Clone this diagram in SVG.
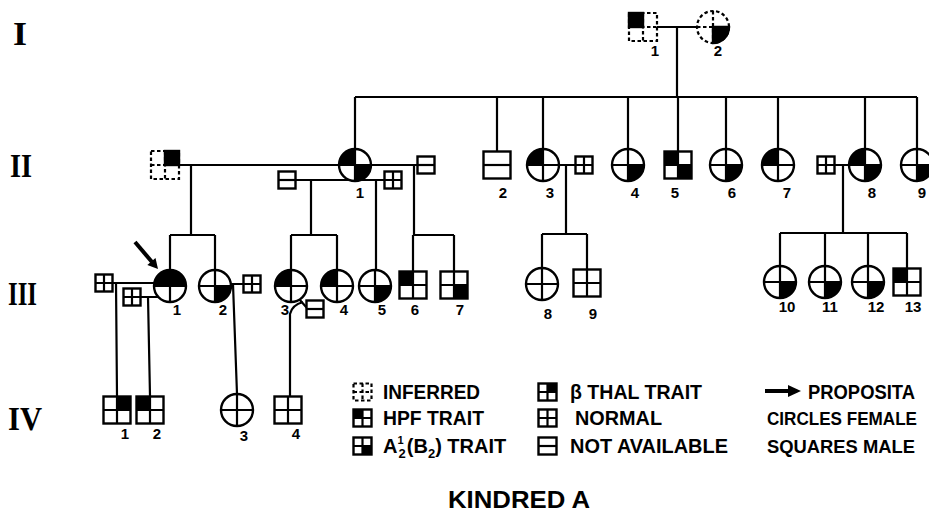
<svg xmlns="http://www.w3.org/2000/svg" xmlns:xlink="http://www.w3.org/1999/xlink" width="929" height="514" viewBox="0 0 929 514">
<style>
.s{fill:#fff;stroke:#000;stroke-width:2.4}
.ln{fill:none;stroke:#000;stroke-width:2.2}
.d{fill:none;stroke:#000;stroke-width:2.2;stroke-dasharray:3.5 2.5}
.k{fill:#000}
.ks{fill:#000;stroke:#000;stroke-width:2.4}
.cn path,.cn line{fill:none;stroke:#000;stroke-width:2.2}
.lb{font-family:"Liberation Sans",Arial,sans-serif;font-weight:bold;font-size:15px;text-anchor:middle}
.lg{font-family:"Liberation Sans",Arial,sans-serif;font-weight:bold;font-size:20px}
.rn{font-family:"Liberation Serif","Times New Roman",serif;font-weight:bold;font-size:34px}
</style>
<defs>
<g id="C"><circle r="16" class="s"/><path d="M-16,0H16M0,-16V16" class="ln"/></g>
<path id="cTL" class="k" d="M0,0H-16A16,16 0 0 1 0,-16Z"/>
<path id="cTR" class="k" d="M0,0V-16A16,16 0 0 1 16,0Z"/>
<path id="cBR" class="k" d="M0,0H16A16,16 0 0 1 0,16Z"/>
<g id="S"><rect x="-13.5" y="-13.5" width="27" height="27" class="s"/><path d="M-13.5,0H13.5M0,-13.5V13.5" class="ln"/></g>
<g id="SNA"><rect x="-13.5" y="-13.5" width="27" height="27" class="s"/><path d="M-13.5,0H13.5" class="ln"/></g>
<rect id="sTL" class="k" x="-13.5" y="-13.5" width="13.5" height="13.5"/>
<rect id="sTR" class="k" x="0" y="-13.5" width="13.5" height="13.5"/>
<rect id="sBR" class="k" x="0" y="0" width="13.5" height="13.5"/>
<g id="s"><rect x="-8.5" y="-8.5" width="17" height="17" class="s"/><path d="M-8.5,0H8.5M0,-8.5V8.5" class="ln"/></g>
<g id="sna"><rect x="-8.5" y="-8.5" width="17" height="17" class="s"/><path d="M-8.5,0H8.5" class="ln"/></g>
<g id="L"><rect x="-9" y="-8.5" width="18" height="17" class="s"/><path d="M-9,0H9M0,-8.5V8.5" class="ln"/></g>
</defs>

<!-- generation numerals -->
<g id="gen-labels">
<text class="rn" x="13" y="45" textLength="14" lengthAdjust="spacingAndGlyphs">I</text>
<text class="rn" x="10" y="177" textLength="22" lengthAdjust="spacingAndGlyphs">II</text>
<text class="rn" x="8" y="305" textLength="29" lengthAdjust="spacingAndGlyphs">III</text>
<text class="rn" x="8" y="430" textLength="34" lengthAdjust="spacingAndGlyphs">IV</text>
</g>

<!-- connectors -->
<g id="connectors" class="cn">
<path d="M657,27H697M677,27V97"/>
<path d="M355,97H917M355,97V149M497,97V152M543,97V149M628,97V149M678,97V152M726,97V149M778,97V149M865,97V149M917,97V149"/>
<path d="M179,165H339M191,165V235M170,235H215M170,235V270M215,235V270"/>
<path d="M371,165H417.5M414,165V235M413,235H454M413,235V272M454,235V272"/>
<path d="M295.5,180H384.5M311,180V235M291,235H337M291,235V270M337,235V270M376,180V270"/>
<path d="M559,165H575.5M566,165V234M542,234H587M542,234V268M587,234V270"/>
<path d="M834.5,165H849M843,165V233M780,233H907M780,233V266M825,233V266M868,233V266M907,233V268"/>
<path d="M112.5,283H154M116,283L117,396"/>
<path d="M140.5,297H158.5M148,297L150,396"/>
<path d="M231,284H243.5M233,284L237,394"/>
<path d="M299,299L307,308M290,396V314Q292,305 303,302"/>
</g>

<!-- generation I -->
<g id="I-1">
<rect x="629" y="13" width="28" height="28" class="d"/>
<path d="M629,27H657M643,13V41" class="d"/>
<rect x="629" y="13" width="14" height="14" class="ks"/>
<text class="lb" x="655" y="56">1</text>
</g>
<g id="I-2">
<circle cx="713" cy="27" r="16" class="d"/>
<path d="M697,27H729M713,11V43" class="d"/>
<path d="M713,27H729A16,16 0 0 1 713,43Z" class="ks"/>
<text class="lb" x="718" y="56">2</text>
</g>

<!-- generation II -->
<g id="II-1-spouse-inferred">
<rect x="151" y="151" width="28" height="28" class="d"/>
<path d="M151,165H179M165,151V179" class="d"/>
<rect x="165" y="151" width="14" height="14" class="ks"/>
</g>
<g id="II-1" transform="translate(355,165)"><use href="#C"/><use href="#cTL"/><use href="#cBR"/><text class="lb" x="5" y="33">1</text></g>
<g id="II-1-spouse-a" transform="translate(287,180)"><use href="#sna"/></g>
<g id="II-1-spouse-b" transform="translate(393,180)"><use href="#s"/></g>
<g id="II-1-spouse-c" transform="translate(426,165)"><use href="#sna"/></g>
<g id="II-2" transform="translate(497,165)"><use href="#SNA"/><text class="lb" x="6" y="33">2</text></g>
<g id="II-3" transform="translate(543,165)"><use href="#C"/><use href="#cTL"/><text class="lb" x="7" y="33">3</text></g>
<g id="II-3-spouse" transform="translate(584,165)"><use href="#s"/></g>
<g id="II-4" transform="translate(628,165)"><use href="#C"/><use href="#cBR"/><text class="lb" x="7" y="33">4</text></g>
<g id="II-5" transform="translate(678,165)"><use href="#S"/><use href="#sTL"/><use href="#sBR"/><text class="lb" x="-3" y="33">5</text></g>
<g id="II-6" transform="translate(726,165)"><use href="#C"/><use href="#cBR"/><text class="lb" x="6" y="33">6</text></g>
<g id="II-7" transform="translate(778,165)"><use href="#C"/><use href="#cTL"/><text class="lb" x="9" y="33">7</text></g>
<g id="II-8-spouse" transform="translate(826,165)"><use href="#s"/></g>
<g id="II-8" transform="translate(865,165)"><use href="#C"/><use href="#cTL"/><use href="#cBR"/><text class="lb" x="7" y="33">8</text></g>
<g id="II-9" transform="translate(917,165)"><use href="#C"/><use href="#cBR"/><text class="lb" x="5" y="33">9</text></g>

<!-- generation III -->
<g id="III-1-spouse-a" transform="translate(104,283)"><use href="#s"/></g>
<g id="III-1-spouse-b" transform="translate(132,297)"><use href="#s"/></g>
<g id="III-1" transform="translate(170,286)"><use href="#C"/><use href="#cTL"/><use href="#cTR"/><text class="lb" x="7" y="29">1</text></g>
<g id="III-2" transform="translate(215,286)"><use href="#C"/><use href="#cBR"/><text class="lb" x="8" y="29">2</text></g>
<g id="III-2-spouse" transform="translate(252,284)"><use href="#s"/></g>
<g id="III-3" transform="translate(291,286)"><use href="#C"/><use href="#cTL"/><text class="lb" x="-6" y="29">3</text></g>
<g id="III-3-spouse" transform="translate(315,309)"><use href="#sna"/></g>
<g id="III-4" transform="translate(337,286)"><use href="#C"/><use href="#cTL"/><text class="lb" x="7" y="29">4</text></g>
<g id="III-5" transform="translate(375,286)"><use href="#C"/><use href="#cBR"/><text class="lb" x="7" y="29">5</text></g>
<g id="III-6" transform="translate(413,285)"><use href="#S"/><use href="#sTL"/><text class="lb" x="2" y="30">6</text></g>
<g id="III-7" transform="translate(454,285)"><use href="#S"/><use href="#sBR"/><text class="lb" x="6" y="30">7</text></g>
<g id="III-8" transform="translate(542,284)"><use href="#C"/><text class="lb" x="6" y="35">8</text></g>
<g id="III-9" transform="translate(587,283)"><use href="#S"/><text class="lb" x="6" y="36">9</text></g>
<g id="III-10" transform="translate(780,282)"><use href="#C"/><use href="#cBR"/><text class="lb" x="7" y="30">10</text></g>
<g id="III-11" transform="translate(825,282)"><use href="#C"/><use href="#cBR"/><text class="lb" x="5" y="30">11</text></g>
<g id="III-12" transform="translate(868,282)"><use href="#C"/><use href="#cBR"/><text class="lb" x="8" y="30">12</text></g>
<g id="III-13" transform="translate(907,282)"><use href="#S"/><use href="#sTL"/><text class="lb" x="6" y="30">13</text></g>

<!-- generation IV -->
<g id="IV-1" transform="translate(117,410)"><use href="#S"/><use href="#sTR"/><text class="lb" x="8" y="29">1</text></g>
<g id="IV-2" transform="translate(150,410)"><use href="#S"/><use href="#sTL"/><text class="lb" x="7" y="29">2</text></g>
<g id="IV-3" transform="translate(237,410)"><use href="#C"/><text class="lb" x="7" y="31">3</text></g>
<g id="IV-4" transform="translate(288,410)"><use href="#S"/><text class="lb" x="8" y="29">4</text></g>

<!-- proposita arrow -->
<g id="proposita-arrow">
<line x1="135" y1="242" x2="152" y2="262" stroke="#000" stroke-width="4"/>
<polygon points="158,269 147.3,265.1 155.5,257.9" class="k"/>
</g>

<!-- legend -->
<g id="legend">
<g transform="translate(362.5,392)"><rect x="-9" y="-8.5" width="18" height="17" class="d"/><path d="M-9,0H9M0,-8.5V8.5" class="d"/></g>
<text class="lg" x="383" y="399" textLength="97" lengthAdjust="spacingAndGlyphs">INFERRED</text>
<g transform="translate(362.5,418)"><use href="#L"/><rect x="-9" y="-8.5" width="9" height="8.5" class="k"/></g>
<text class="lg" x="383" y="425" textLength="101" lengthAdjust="spacingAndGlyphs">HPF TRAIT</text>
<g transform="translate(362.5,446)"><use href="#L"/><rect x="0" y="0" width="9" height="8.5" class="k"/></g>
<text class="lg" x="383" y="453">A<tspan style="font-size:11px" dy="-9">1</tspan><tspan style="font-size:13px" dx="-5" dy="14">2</tspan><tspan dx="1" dy="-5">(B</tspan><tspan style="font-size:13px" dy="5">2</tspan><tspan dy="-5">) TRAIT</tspan></text>
<g transform="translate(547.5,392)"><use href="#L"/><rect x="0" y="-8.5" width="9" height="8.5" class="k"/></g>
<text class="lg" x="570" y="399" textLength="132" lengthAdjust="spacingAndGlyphs">β THAL TRAIT</text>
<g transform="translate(547.5,418)"><use href="#L"/></g>
<text class="lg" x="575" y="425" textLength="87" lengthAdjust="spacingAndGlyphs">NORMAL</text>
<g transform="translate(547.5,446)"><rect x="-9" y="-8.5" width="18" height="17" class="s"/><path d="M-9,0H9" class="ln"/></g>
<text class="lg" x="570" y="453" textLength="158" lengthAdjust="spacingAndGlyphs">NOT AVAILABLE</text>
<line x1="765" y1="391" x2="790" y2="391" stroke="#000" stroke-width="4"/>
<polygon points="788,385 801,391 788,397" class="k"/>
<text class="lg" x="808" y="399" textLength="107" lengthAdjust="spacingAndGlyphs">PROPOSITA</text>
<text class="lg" x="767" y="425" style="font-size:17.5px" textLength="150" lengthAdjust="spacingAndGlyphs">CIRCLES FEMALE</text>
<text class="lg" x="767" y="453" style="font-size:19px" textLength="148" lengthAdjust="spacingAndGlyphs">SQUARES MALE</text>
</g>

<text id="title" class="lg" x="448" y="508" style="font-size:23px" textLength="142" lengthAdjust="spacingAndGlyphs">KINDRED A</text>
</svg>
